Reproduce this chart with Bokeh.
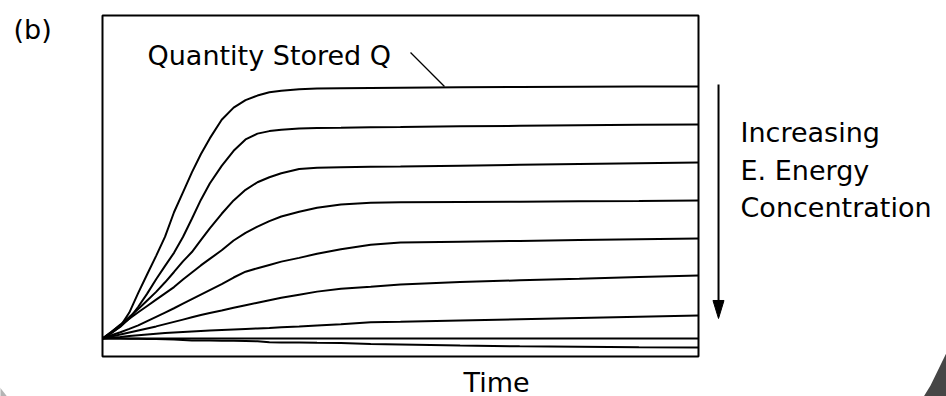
from bokeh.plotting import figure
from bokeh.models import Range1d, Label
from bokeh.embed import file_html
from bokeh.resources import INLINE

# Time samples (arbitrary units, 0..100)
time = [0, 1.5, 3, 4.5, 6, 7.5, 9, 10.5, 12, 13.5, 15, 16.5, 18, 20, 22, 24, 26, 28, 30,
        33, 36, 40, 45, 50, 60, 70, 80, 90, 100]

# Quantity stored Q, one series per E. energy concentration (low -> high)
q1 = [0, 2.2, 4.8, 10.3, 18.1, 25.5, 32.8, 40.4, 50.1, 58.0, 65.9, 73.1, 79.4, 86.8, 91.6,
      94.6, 96.4, 97.7, 98.3, 98.9, 99.2, 99.3, 99.4, 99.5, 99.7, 99.8, 99.9, 100, 100]
q2 = [0, 2.2, 4.7, 7.9, 12.6, 17.8, 23.5, 28.8, 34.0, 40.3, 47.5, 55.0, 61.5, 68.5, 74.5,
      79.0, 81.3, 82.3, 82.8, 83.3, 83.5, 83.6, 83.8, 83.9, 84.2, 84.4, 84.6, 84.8, 84.9]
q3 = [0, 2.6, 5.5, 8.5, 11.7, 15.1, 18.5, 22.3, 26.4, 30.6, 34.3, 39.0, 43.7, 49.5, 54.8,
      59.0, 62.0, 64.0, 65.6, 67.3, 67.8, 68.0, 68.2, 68.3, 68.6, 68.9, 69.2, 69.5, 69.8]
q4 = [0, 2.7, 5.3, 7.9, 10.4, 12.9, 15.4, 17.9, 20.4, 23.4, 26.2, 29.0, 31.6, 35.0, 38.9,
      41.9, 44.4, 46.6, 48.4, 50.3, 51.9, 53.2, 53.9, 54.1, 54.2, 54.3, 54.5, 54.6, 54.8]
q5 = [0, 1.3, 2.5, 3.8, 5.2, 6.9, 8.6, 10.3, 12.0, 13.8, 15.6, 17.4, 19.2, 21.6, 24.2,
      26.5, 27.9, 29.2, 30.5, 32.0, 33.6, 35.4, 37.2, 38.1, 38.4, 38.7, 39.1, 39.4, 39.7]
q6 = [0, 0.8, 1.6, 2.4, 3.2, 4.0, 4.8, 5.7, 6.6, 7.5, 8.4, 9.3, 10.1, 11.1, 12.2,
      13.2, 14.2, 15.2, 16.2, 17.4, 18.6, 19.7, 20.5, 21.4, 22.4, 23.1, 23.7, 24.4, 25.0]
q7 = [0, 0.3, 0.6, 1.0, 1.3, 1.6, 1.9, 2.2, 2.4, 2.6, 2.8, 3.0, 3.2, 3.4, 3.6,
      3.8, 4.0, 4.2, 4.5, 4.8, 5.2, 5.7, 6.4, 6.6, 7.1, 7.6, 8.1, 8.6, 9.1]
q8 = [0, 0, 0, 0, 0, 0, 0, 0, 0, 0, 0, 0, 0, 0, 0,
      0, 0, 0, 0, 0, 0, 0, 0, 0, 0, 0, 0, 0, 0]
q9 = [0, 0, 0, -0.1, -0.1, -0.2, -0.2, -0.3, -0.4, -0.6, -0.8, -0.8, -0.8, -0.9, -0.9,
      -1.0, -1.1, -1.5, -1.6, -1.6, -1.7, -1.8, -2.2, -2.4, -2.8, -3.1, -3.3, -3.5, -3.6]
series = [q1, q2, q3, q4, q5, q6, q7, q8, q9]

# plot box extents in data units
T_MIN, T_MAX = 0, 100
Q_MIN, Q_MAX = -7.14, 128.17

FONT = "DejaVu Sans"
FS = "27px"

p = figure(width=946, height=396, output_backend="svg", toolbar_location=None,
           x_range=Range1d(-17.114, 141.611), y_range=Range1d(-23.016, 134.127),
           min_border_left=0, min_border_right=0, min_border_top=0, min_border_bottom=0)
p.axis.visible = False
p.xgrid.grid_line_color = None
p.ygrid.grid_line_color = None
p.outline_line_color = None
p.background_fill_color = "white"
p.border_fill_color = "white"

# photo-frame corners
p.patch([141.8, 141.8, 137.75, 138.93, 141.8], [-4.76, -23.2, -23.2, -18.65, -4.76],
        fill_color="#464646", line_color="#464646", line_width=0)
p.patch([-17.2, -15.94, -17.2], [-19.44, -23.2, -23.2],
        fill_color="#b4b4b4", line_color="#b4b4b4", line_width=0)

# plot box
p.quad(left=T_MIN, right=T_MAX, bottom=Q_MIN, top=Q_MAX,
       fill_color=None, line_color="black", line_width=2)

for q in series:
    p.line(time, q, line_color="black", line_width=2)

# pointer from label to top curve
p.line([51.68, 57.38], [113.49, 100.0], line_color="black", line_width=1.3)

def lab(x, y, t):
    p.add_layout(Label(x=x, y=y, text=t, text_font=FONT, text_font_size=FS,
                       text_color="black", text_baseline="alphabetic", text_align="left"))

lab(-14.93, 122.62, "(b)")
lab(7.55, 112.30, "Quantity Stored Q")
lab(107.05, 81.75, "Increasing")
lab(107.05, 66.67, "E. Energy")
lab(107.05, 51.97, "Concentration")
lab(60.57, -17.46, "Time")

# arrow shaft and head
p.line([103.36, 103.36], [100.79, 12.0], line_color="black", line_width=2)
p.patch([102.43, 104.28, 103.36], [15.08, 15.08, 7.94],
        fill_color="black", line_color="black", line_width=1)

open("out.html", "w").write(file_html(p, INLINE))
